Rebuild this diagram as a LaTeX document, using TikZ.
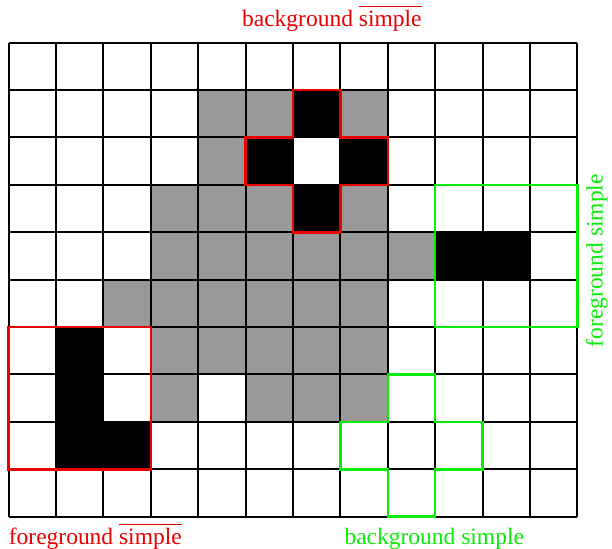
\documentclass[tikz,border=0pt]{standalone}
\usepackage{amsmath}
\usepackage{fontspec}
\setmainfont{Liberation Serif}
\usetikzlibrary{positioning}
\definecolor{cellgray}{RGB}{153,153,153}
\definecolor{setred}{RGB}{235,0,0}
\definecolor{setgreen}{RGB}{10,235,10}

\begin{document}
\begin{tikzpicture}[x=1cm,y=1cm,font=\fontsize{14.1}{17}\selectfont,
  outline/.style={line width=1.5pt,line join=miter}]
\useasboundingbox (-0.18,-0.68) rectangle (12.73,10.9);
% gray and black cells
\foreach \c/\r in {4/8,5/8,7/8,4/7,3/6,4/6,5/6,7/6,3/5,4/5,5/5,6/5,7/5,8/5,
  2/4,3/4,4/4,5/4,6/4,7/4,3/3,4/3,5/3,6/3,7/3,3/2,5/2,6/2,7/2}
  \fill[cellgray] (\c,\r) rectangle ++(1,1);
\foreach \c/\r in {6/8,5/7,7/7,6/6,9/5,10/5,1/3,1/2,1/1,2/1}
  \fill[black] (\c,\r) rectangle ++(1,1);
\draw[line width=1.2pt] (0,0) grid (12,10);
% red sets
\draw[outline,setred] (6,9)--(7,9)--(7,8)--(8,8)--(8,7)--(7,7)--(7,6)--(6,6)--(6,7)--(5,7)--(5,8)--(6,8)--cycle;
\draw[outline,setred] (0,1) rectangle (3,4);
% green sets
\draw[outline,setgreen] (9,4) rectangle (12,7);
\draw[outline,setgreen] (8,3)--(9,3)--(9,2)--(10,2)--(10,1)--(9,1)--(9,0)--(8,0)--(8,1)--(7,1)--(7,2)--(8,2)--cycle;
% labels
\node[setred,anchor=base,inner sep=0pt] (bgbar) at (6.82,10.34) {background $\overline{\text{simple}}$};
\node[setred,anchor=base west,inner sep=0pt] (fgbar) at (0,-0.58) {foreground $\overline{\text{simple}}$};
\node[setgreen,anchor=base,inner sep=0pt] (bgsim) at (8.98,-0.58) {background simple};
\node[setgreen,rotate=90,inner sep=0pt] (fgsim) at (12.41,5.4) {foreground simple};
\end{tikzpicture}
\end{document}
